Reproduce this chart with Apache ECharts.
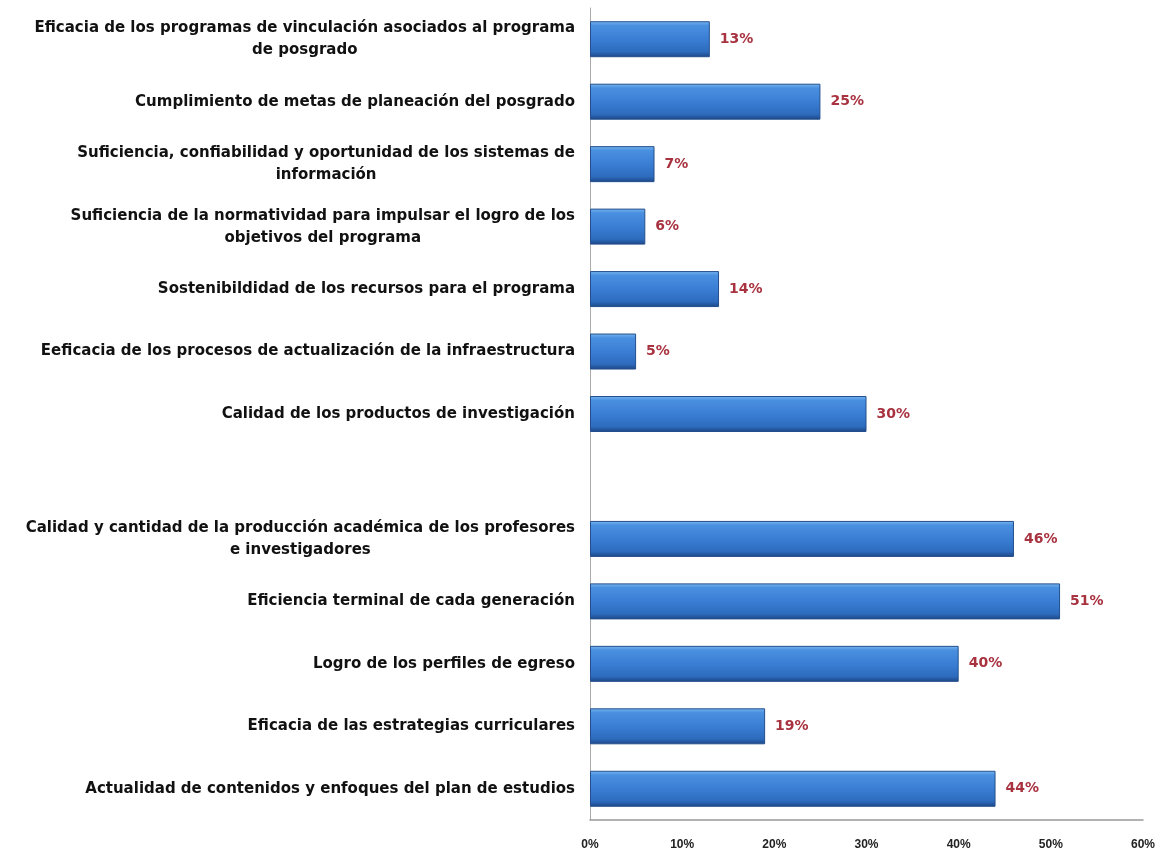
<!DOCTYPE html>
<html>
<head>
<meta charset="utf-8">
<script src="https://cdn.jsdelivr.net/npm/echarts@6/dist/echarts.min.js"></script>
<style>html,body{margin:0;padding:0;background:#fff}#c{width:1168px;height:862px}</style>
</head>
<body>
<div id="c"></div>
<script>
var categories = [
  'Eficacia de los programas de vinculación asociados al programa\nde posgrado',
  'Cumplimiento de metas de planeación del posgrado',
  'Suficiencia, confiabilidad y oportunidad de los sistemas de\ninformación',
  'Suficiencia de la normatividad para impulsar el logro de los\nobjetivos del programa',
  'Sostenibildidad de los recursos para el programa',
  'Eeficacia de los procesos de actualización de la infraestructura',
  'Calidad de los productos de investigación',
  '',
  'Calidad y cantidad de la producción académica de los profesores\ne investigadores',
  'Eficiencia terminal de cada generación',
  'Logro de los perfiles de egreso',
  'Eficacia de las estrategias curriculares',
  'Actualidad de contenidos y enfoques del plan de estudios'
];
var values = [13, 25, 7, 6, 14, 5, 30, null, 46, 51, 40, 19, 44];
var xTicks = [0, 10, 20, 30, 40, 50, 60];

var LF = 15;
var labelFont = 'bold ' + LF + 'px "DejaVu Sans"';
var ctx = document.createElement('canvas').getContext('2d');
ctx.font = labelFont;
var base = { fontSize: LF, fontWeight: 'bold', fontFamily: 'DejaVu Sans', color: '#111', lineHeight: 22 };
var rich = { a: Object.assign({}, base) };
categories.forEach(function (c, i) {
  var parts = c.split('\n');
  if (parts.length > 1) {
    rich['b' + i] = Object.assign({ width: ctx.measureText(parts[0]).width, align: 'center' }, base);
  }
});

var chart = echarts.init(document.getElementById('c'));
chart.setOption({
  backgroundColor: '#fff',
  animation: false,
  grid: { left: 590, right: 25, top: 8, bottom: 42, containLabel: false },
  xAxis: {
    type: 'value', min: xTicks[0], max: xTicks[xTicks.length - 1], interval: xTicks[1] - xTicks[0],
    axisLine: { show: true, lineStyle: { color: '#999', width: 1.5 } },
    axisTick: { show: false },
    splitLine: { show: false },
    axisLabel: {
      margin: 19, fontSize: 12, fontWeight: 'bold', fontFamily: 'Liberation Sans', color: '#222',
      formatter: function (v) { return v + '%'; }
    }
  },
  yAxis: {
    type: 'category', inverse: true, data: categories,
    axisLine: { show: true, lineStyle: { color: '#aaa', width: 1 } },
    axisTick: { show: false },
    axisLabel: {
      margin: 15, interval: 0, align: 'right',
      formatter: function (v, i) {
        var parts = v.split('\n');
        if (parts.length > 1) return '{a|' + parts[0] + '}\n{b' + i + '|' + parts[1] + '}';
        return '{a|' + v + '}';
      },
      rich: rich
    }
  },
  series: [{
    type: 'bar', data: values, barWidth: 36,
    itemStyle: {
      color: new echarts.graphic.LinearGradient(0, 0, 0, 1, [
        { offset: 0, color: '#7ab8f2' },
        { offset: 0.12, color: '#4a90e0' },
        { offset: 0.5, color: '#3a7ed4' },
        { offset: 0.85, color: '#2d6bbd' },
        { offset: 1, color: '#1c4584' }
      ]),
      borderColor: '#244f8c', borderWidth: 1
    },
    label: {
      show: true, position: 'right', distance: 10,
      fontSize: 14, fontWeight: 'bold', fontFamily: 'DejaVu Sans', color: '#a8323f',
      formatter: function (p) { return p.value + '%'; }
    }
  }]
});
</script>
</body>
</html>
